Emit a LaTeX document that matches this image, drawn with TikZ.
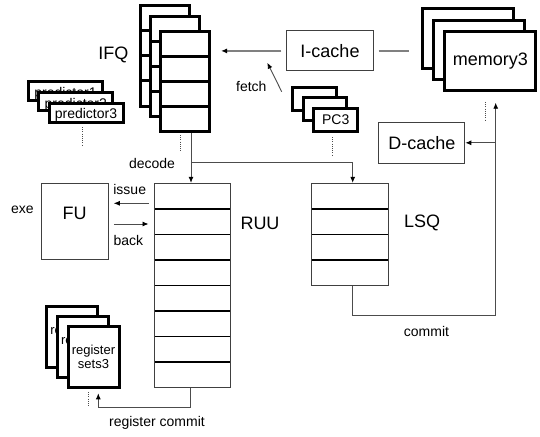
\documentclass[tikz,border=0pt]{standalone}
\usepackage{fontspec}
\setmainfont{Liberation Sans}
\usetikzlibrary{calc,arrows.meta}

\tikzset{
  big/.style={font=\fontsize{18}{20}\selectfont},
  small/.style={font=\fontsize{14}{16}\selectfont},
  tiny/.style={font=\fontsize{13}{13.5}\selectfont},
  % stacked copies drawn with a heavy outline
  frame/.style 2 args={draw=black, line width=3pt, fill=white, inner sep=0pt,
    minimum width=#1pt, minimum height=#2pt},
  % plain unit boxes with a thin outline
  unit/.style 2 args={draw=black!75, line width=0.9pt, fill=white, inner sep=0pt,
    minimum width=#1pt, minimum height=#2pt},
  % horizontal slot dividers, given as fractions of the height
  heavyrows/.style={path picture={
    \foreach \fr in {#1}{
      \draw[line width=3pt,black]
        ($(path picture bounding box.north west)!\fr!(path picture bounding box.south west)$) --
        ($(path picture bounding box.north east)!\fr!(path picture bounding box.south east)$);}}},
  lightrows/.style={path picture={
    \foreach \fr in {#1}{
      \draw[line width=1.4pt,black]
        ($(path picture bounding box.north west)!\fr!(path picture bounding box.south west)$) --
        ($(path picture bounding box.north east)!\fr!(path picture bounding box.south east)$);}}},
  conn/.style={draw=black!70, line width=0.9pt},
  busline/.style={draw=black!50, line width=1.8pt},
  tip/.style={-{Latex[length=6pt,width=5pt,color=black]}},
  more/.style={draw=black!70, line width=1pt, dash pattern=on 1pt off 1.2pt},
  lowtext/.style={text height=13pt, text depth=0pt},
}

\begin{document}
\begin{tikzpicture}[x=1pt,y=-1pt]
  \fill[white] (0,0) rectangle (540,436);
  \path[use as bounding box] (0,0) rectangle (540,436);

  % instruction fetch queues
  \node[frame={49}{100.5}, heavyrows={0.25,0.5,0.75}] (ifq1) at (164.5,55.8) {};
  \node[frame={49}{100.5}, heavyrows={0.25,0.5,0.75}] (ifq2) at (174.5,66.3) {};
  \node[frame={49}{100.5}, heavyrows={0.25,0.5,0.75}] (ifq3) at (185,81.5) {};
  \node[big] (ifqlabel) at (113.3,54.5) {IFQ};
  \draw[more] (180,135) -- (180,151);

  % branch predictors
  \node[frame={74}{18.7}, small, lowtext] (pred1) at (65.5,91) {predictor1};
  \node[frame={74}{18.7}, small, lowtext] (pred2) at (75.8,101.5) {predictor2};
  \node[frame={74}{18.7}, small, text depth=0pt] (pred3) at (86,113.2) {predictor3};
  \draw[more] (82,127) -- (82,146);

  % program counters
  \node[frame={43.7}{23}] (pc1) at (314.5,99) {};
  \node[frame={43.7}{23}] (pc2) at (325,109) {};
  \node[frame={43.7}{23}, small] (pc3) at (335.7,119.7) {PC3};
  \draw[more] (332.3,137) -- (332.3,155);

  % caches
  \node[unit={86.5}{40}, big] (icache) at (330,50.9) {I-cache};
  \node[unit={86}{41}, big] (dcache) at (421.9,142.8) {D-cache};

  % memories
  \node[frame={91}{59.5}] (mem1) at (467.9,38.7) {};
  \node[frame={91}{59.5}] (mem2) at (479.2,50) {};
  \node[frame={91}{59.5}, big] (mem3) at (490.3,60.9) {memory3};
  \draw[more] (485.7,102) -- (485.7,120);

  % execution core
  \node[unit={76.7}{204}, lightrows={0.125,0.25,0.375,0.5,0.625,0.75,0.875}] (ruu) at (192.3,285.3) {};
  \node[big] (ruulabel) at (260,223.3) {RUU};
  \node[unit={76.6}{102}, lightrows={0.25,0.5,0.75}] (lsq) at (350,234.3) {};
  \node[big] (lsqlabel) at (422.2,223.3) {LSQ};
  \node[unit={66.6}{76}] (fu) at (75,221.3) {};
  \node[big] (fulabel) at (74.7,213.3) {FU};
  \node[small] (exelabel) at (22.5,210) {exe};

  % register files
  \node[frame={51}{61}, tiny, align=center] (reg1) at (72,336.7) {register\\sets1};
  \node[frame={51}{61}, tiny, align=center] (reg2) at (82.7,346.7) {register\\sets2};
  \node[frame={51}{61}, tiny, align=center] (reg3) at (93.5,356.7) {register\\sets3};
  \draw[more] (88.3,392) -- (88.3,407);

  % fetch path
  \draw[busline, tip] ($(icache.west)+(-5,0)$) -- ($(ifq3.east |- icache.west)+(10,0)$);
  \draw[busline] ($(icache.east)+(5,0)$) -- ($(mem1.west |- icache.east)+(-12,0)$);
  \coordinate (fetchfrom) at (281.7,91.7);
  \coordinate (fetchto) at (267.3,62.7);
  \draw[conn, tip] (fetchfrom) -- (fetchto);
  \node[small] (fetchlabel) at (251.3,86.7) {fetch};

  % decode / dispatch
  \coordinate (split) at (191,162.7);
  \draw[conn, tip] (ifq3.south -| split) -- (split |- ruu.north);
  \draw[conn, tip] (split) -| ($(lsq.north)+(2.7,0)$);
  \node[small] (decodelabel) at (152,163) {decode};

  % issue / writeback
  \draw[conn, tip] ($(ruu.west |- 0,203.3)+(-5,0)$) -- ($(fu.east |- 0,203.3)+(5,0)$);
  \draw[conn, tip] ($(fu.east |- 0,224)+(5,0)$) -- ($(ruu.west |- 0,224)+(-5,0)$);
  \node[small] (issuelabel) at (129.7,189.3) {issue};
  \node[small] (backlabel) at (128.3,240) {back};

  % memory commit
  \coordinate (commitcorner) at (495.7,315.3);
  \coordinate (memport) at (495.7,102.7);
  \draw[conn, tip] ($(lsq.south)+(2.7,0)$) |- (commitcorner) -- (memport);
  \draw[conn, tip] (commitcorner |- dcache.east) -- (dcache.east);
  \node[small] (commitlabel) at (426.5,331.7) {commit};

  % register commit
  \coordinate (regcorner) at (98.3,407.3);
  \coordinate (regport) at (98.3,393.3);
  \draw[conn, tip] ($(ruu.south)+(-1.6,0)$) |- (regcorner) -- (regport);
  \node[small] (regcommitlabel) at (157,423.3) {register commit};
\end{tikzpicture}
\end{document}
